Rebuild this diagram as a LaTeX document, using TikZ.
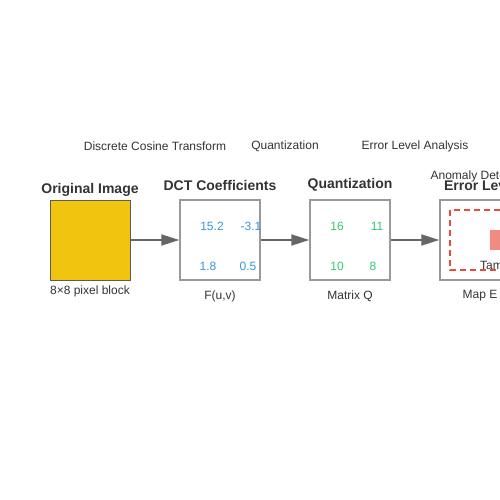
\documentclass[tikz,border=0pt]{standalone}
\usepackage{fontspec}
\setmainfont{Liberation Sans}
\usetikzlibrary{arrows.meta}
\definecolor{ink}{HTML}{333333}
\definecolor{pixel}{HTML}{F1C40F}
\definecolor{frame}{HTML}{999999}
\definecolor{coefblue}{HTML}{3498DB}
\definecolor{quantgreen}{HTML}{2ECC71}
\definecolor{errred}{HTML}{E74C3C}
\definecolor{flow}{HTML}{666666}
\tikzset{
 stagebox/.style={draw=frame,line width=1.5pt,fill=white,minimum size=80pt,inner sep=0pt},
 stagetitle/.style={font=\fontsize{14}{14}\selectfont\bfseries,text=ink},
 steplabel/.style={font=\fontsize{12}{12}\selectfont,text=ink},
 coef/.style={font=\fontsize{12}{12}\selectfont,text=coefblue},
 qval/.style={font=\fontsize{12}{12}\selectfont,text=quantgreen},
 flowarrow/.style={draw=flow,line width=2pt,-{Triangle[length=18pt,width=11pt]}}
}
\begin{document}
\begin{tikzpicture}[x=1pt,y=-1pt]
 \useasboundingbox (0,0) rectangle (500,500);
 \clip (0,0) rectangle (500,500);
 % step names
 \node[steplabel] (dctstep) at (155,146) {Discrete Cosine Transform};
 \node[steplabel] (quantstep) at (285,146) {Quantization};
 \node[steplabel] (elastep) at (415,146) {Error Level Analysis};
 % original block
 \node[draw=ink!80,line width=1pt,fill=pixel,minimum size=80pt,inner sep=0pt] (orig) at (90,240) {};
 \node[stagetitle] (origtitle) at (90,190) {Original Image};
 \node[steplabel] (origlabel) at (90,291) {8×8 pixel block};
 % DCT coefficients
 \node[stagebox] (dct) at (220,240) {};
 \node[stagetitle] (dcttitle) at (220,185) {DCT Coefficients};
 \node[coef] (c11) at (212,226) {15.2};
 \node[coef] (c12) at (251,226) {-3.1};
 \node[coef] (c21) at (208,266) {1.8};
 \node[coef] (c22) at (248,266) {0.5};
 \node[steplabel] (dctlabel) at (220,296) {F(u,v)};
 % quantization
 \node[stagebox] (quant) at (350,240) {};
 \node[stagetitle] (quanttitle) at (350,185) {Quantization};
 \node[qval] (q11) at (337,226) {16};
 \node[qval] (q12) at (377,226) {11};
 \node[qval] (q21) at (337,266) {10};
 \node[qval] (q22) at (373,266) {8};
 \node[steplabel] (quantlabel) at (350,296) {Matrix Q};
 % error level map
 \node[stagebox] (ela) at (480,240) {};
 \node[steplabel] (anomaly) at (481,176) {Anomaly Detection};
 \node[stagetitle] (elatitle) at (481,185) {Error Level};
 \draw[errred,line width=2pt,dash pattern=on 6pt off 4pt] (450,210) rectangle (510,270);
 \fill[errred!65] (490,230) rectangle (510,250);
 \node[steplabel,anchor=west,inner sep=0pt] (tamper) at (480,266) {Tampered};
 \node[steplabel] (elalabel) at (480,296) {Map E};
 % flow
 \draw[flowarrow] (orig) -- (dct);
 \draw[flowarrow] (dct) -- (quant);
 \draw[flowarrow] (quant) -- (ela);
\end{tikzpicture}
\end{document}
